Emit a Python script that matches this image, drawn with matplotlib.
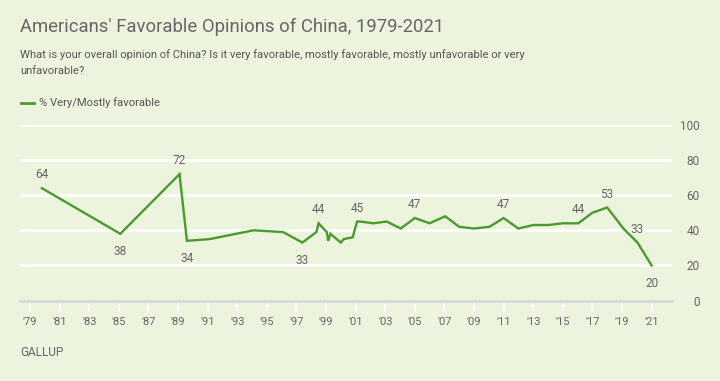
import matplotlib.pyplot as plt
import numpy as np

plt.rcParams['font.family'] = ['Roboto', 'DejaVu Sans']

# survey dates (decimal years) and % very/mostly favorable
years = [1979.8, 1985.1, 1989.1, 1989.6, 1991.15, 1994.1, 1996.1, 1997.4, 1998.35, 1998.5,
         1999.05, 1999.15, 1999.3, 2000.0, 2000.2, 2000.8, 2001.1, 2001.3, 2002.2, 2003.1,
         2004.05, 2005.0, 2006.0, 2007.05, 2008.0, 2009.0, 2010.05, 2011.0, 2012.0, 2013.0,
         2014.0, 2015.0, 2016.05, 2017.0, 2018.0, 2019.1, 2020.05, 2021.0]
favorable = [64, 38, 72, 34, 35, 40, 39, 33, 39, 44,
             39, 34, 38, 33, 35, 36, 45, 45, 44, 45,
             41, 47, 44, 48, 42, 41, 42, 47, 41, 43,
             43, 44, 44, 50, 53, 41, 33, 20]

# which points carry a value label, and whether it sits above or below
label_idx = [0, 1, 2, 3, 7, 9, 16, 21, 27, 32, 34, 36, 37]
label_below = [1, 3, 7, 37]

tick_years = list(range(1979, 2022, 2))
tick_labels = ["'" + str(y)[2:] for y in tick_years]

bg = '#ecf4dd'
green = '#4a9a2e'
grey = '#666666'

fig = plt.figure(figsize=(7.2, 3.81), dpi=100, facecolor=bg)
ax = fig.add_axes([20 / 720, 80.5 / 381, (671.7 - 20) / 720, 175.5 / 381])
ax.set_facecolor(bg)

ax.plot(years, favorable, color=green, lw=1.7, solid_joinstyle='miter', zorder=3)

for i in label_idx:
    if i in label_below:
        ax.annotate(str(favorable[i]), (years[i], favorable[i]), xytext=(0, -8),
                    textcoords='offset points', ha='center', va='top', color=grey, fontsize=8.5)
    else:
        ax.annotate(str(favorable[i]), (years[i], favorable[i]), xytext=(0, 5),
                    textcoords='offset points', ha='center', va='bottom', color=grey, fontsize=8.5)

ax.set_xlim(1978.32, 2022.36)
ax.set_ylim(0, 100)
ax.set_yticks([0, 20, 40, 60, 80, 100])
ax.yaxis.tick_right()
ax.tick_params(axis='y', length=0, pad=20, labelsize=8.5, labelcolor=grey)
for lab in ax.get_yticklabels():
    lab.set_ha('right')
ax.grid(axis='y', color='white', lw=2)
ax.set_axisbelow(True)

ax.set_xticks(tick_years)
ax.set_xticklabels(tick_labels)
ax.tick_params(axis='x', length=7, width=1.5, color='white', pad=5, labelsize=8, labelcolor=grey)

for s in ['top', 'left', 'right']:
    ax.spines[s].set_visible(False)
ax.spines['bottom'].set_color('#d8d8d8')
ax.spines['bottom'].set_linewidth(2)

fig.text(20 / 720, 1 - 27 / 381, "Americans' Favorable Opinions of China, 1979-2021",
         fontsize=13.3, color=grey, va='center')
fig.text(20 / 720, 1 - 55 / 381,
         "What is your overall opinion of China? Is it very favorable, mostly favorable, mostly unfavorable or very",
         fontsize=8.1, color='#555555', va='center')
fig.text(20 / 720, 1 - 71 / 381, "unfavorable?", fontsize=8.1, color='#555555', va='center')
fig.lines.append(plt.Line2D([20.5 / 720, 33.5 / 720], [1 - 103 / 381, 1 - 103 / 381],
                            transform=fig.transFigure, color=green, lw=2))
fig.text(39 / 720, 1 - 103 / 381, "% Very/Mostly favorable", fontsize=8.1, color='#555555', va='center')
fig.text(20 / 720, 1 - 353 / 381, "GALLUP", fontsize=8.5, color=grey, va='center')

fig.savefig('out.png', dpi=100, facecolor=bg)
